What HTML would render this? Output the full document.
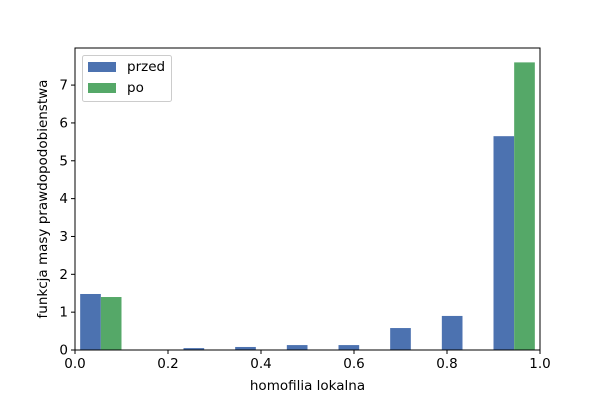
<!DOCTYPE html>
<html><head><meta charset="utf-8"><style>
body{margin:0;background:#fff;}
svg text{font-family:"DejaVu Sans","Liberation Sans",sans-serif;font-size:13.5px;fill:#000}
</style></head><body>
<svg id="chart" width="600" height="400" xmlns="http://www.w3.org/2000/svg"></svg>
<script>
const binCount = 9;
const przed = [1.48, 0, 0.05, 0.08, 0.13, 0.13, 0.58, 0.9, 5.65];
const po = [1.40, 0, 0, 0, 0, 0, 0, 0, 7.6];
const xTicks = [0, 0.2, 0.4, 0.6, 0.8, 1.0];
const xTickLabels = ["0.0", "0.2", "0.4", "0.6", "0.8", "1.0"];
const yTicks = [0, 1, 2, 3, 4, 5, 6, 7];

const L=75,R=540,T=48,B=350,yMax=7.98;
const sx=v=>L+v*(R-L);
const sy=v=>B-v/yMax*(B-T);
const svg=document.getElementById('chart');
const NS='http://www.w3.org/2000/svg';
function mk(tag,attrs,parent){const e=document.createElementNS(NS,tag);for(const k in attrs)e.setAttribute(k,attrs[k]);(parent||svg).appendChild(e);return e;}

const bw=1/binCount, barW=bw*0.4;
przed.forEach((v,i)=>{
  if(v<=0)return;
  const x0=i*bw+bw*0.1;
  const r=mk('rect',{x:sx(x0),y:sy(v),width:sx(x0+barW)-sx(x0),height:B-sy(v),fill:'#4c72b0'});
  
  
});
po.forEach((v,i)=>{
  if(v<=0)return;
  const x0=i*bw+bw*0.1+barW;
  const r=mk('rect',{x:sx(x0),y:sy(v),width:sx(x0+barW)-sx(x0),height:B-sy(v),fill:'#55a868'});
  
  
});
const frame=mk('rect',{x:L,y:T,width:R-L,height:B-T,fill:'none',stroke:'#000','stroke-width':1});



xTicks.forEach((t,i)=>{
  mk('line',{x1:sx(t),x2:sx(t),y1:B,y2:B+4,stroke:'#000'});
  const tx=mk('text',{x:sx(t),y:B+18,'text-anchor':'middle'});
  tx.textContent=xTickLabels[i];
  
  
});
yTicks.forEach(t=>{
  mk('line',{x1:L-4,x2:L,y1:sy(t),y2:sy(t),stroke:'#000'});
  const tx=mk('text',{x:L-7,y:sy(t)+4.5,'text-anchor':'end'});
  tx.textContent=String(t);
  
  
});
const xl=mk('text',{x:(L+R)/2,y:390,'text-anchor':'middle'});
xl.textContent='homofilia lokalna';


const yl=mk('text',{x:0,y:0,'text-anchor':'middle',transform:`translate(47,${(T+B)/2}) rotate(-90)`});
yl.textContent='funkcja masy prawdopodobienstwa';



const lg=mk('g',{});


mk('rect',{x:82.5,y:55.5,width:89,height:46,rx:2,fill:'#fff',stroke:'#ccc'},lg);
mk('rect',{x:88,y:62,width:28,height:10,fill:'#4c72b0'},lg);
mk('rect',{x:88,y:83,width:28,height:10,fill:'#55a868'},lg);
const t1=mk('text',{x:127,y:71},lg);t1.textContent='przed';


const t2=mk('text',{x:127,y:92},lg);t2.textContent='po';


</script>
</body></html>
